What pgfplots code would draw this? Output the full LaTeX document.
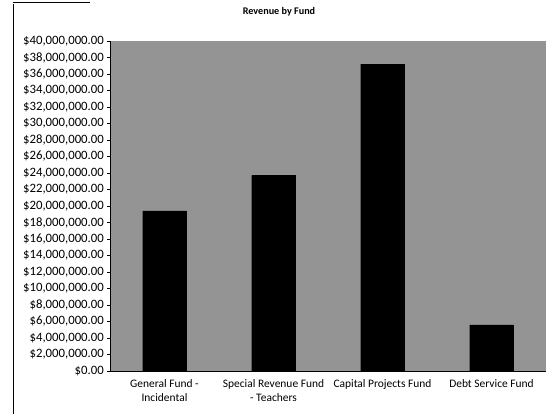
\documentclass[border=0pt]{standalone}
\usepackage{pgfplots}
\pgfplotsset{compat=1.18}
\usepackage{fontspec}
\setmainfont{Carlito}
\begin{document}
\begin{tikzpicture}
\useasboundingbox (-110bp,-43bp) rectangle (449bp,371bp);
\begin{axis}[
  at={(0,0)}, anchor=south west,
  scale only axis, width=436bp, height=330bp,
  xmin=-0.5, xmax=3.5, ymin=0, ymax=40000000,
  axis x line*=bottom, axis y line*=left,
  axis line style={black, line width=0.6pt},
  axis background/.style={fill=black!42},
  xtick={0,1,2,3},
  xticklabels={{General Fund -\\Incidental},{Special Revenue Fund\\- Teachers},{Capital Projects Fund},{Debt Service Fund}},
  xticklabel style={align=center, font=\fontsize{11.5}{14}\selectfont, inner sep=2pt, yshift=-3bp},
  x tick style={draw=none},
  extra x ticks={-0.5,0.5,1.5,2.5,3.5},
  extra x tick labels={},
  extra x tick style={tick style={draw=black, line width=0.5pt}, major tick length=3bp, tick align=outside},
  ytick={0,2000000,4000000,6000000,8000000,10000000,12000000,14000000,16000000,18000000,20000000,22000000,24000000,26000000,28000000,30000000,32000000,34000000,36000000,38000000,40000000},
  yticklabels={{\$0.00},{\$2,000,000.00},{\$4,000,000.00},{\$6,000,000.00},{\$8,000,000.00},{\$10,000,000.00},{\$12,000,000.00},{\$14,000,000.00},{\$16,000,000.00},{\$18,000,000.00},{\$20,000,000.00},{\$22,000,000.00},{\$24,000,000.00},{\$26,000,000.00},{\$28,000,000.00},{\$30,000,000.00},{\$32,000,000.00},{\$34,000,000.00},{\$36,000,000.00},{\$38,000,000.00},{\$40,000,000.00}},
  yticklabel style={font=\fontsize{12.8}{14}\selectfont, inner sep=1pt, xshift=-2bp},
  y tick style={black, line width=0.5pt},
  tick align=outside, major tick length=3bp,
  scaled y ticks=false,
  ybar, bar width=0.4,
  clip=false,
]
\addplot[fill=black, draw=black] coordinates {(0,19400000) (1,23700000) (2,37200000) (3,5600000)};
\end{axis}
\node[font=\bfseries\fontsize{10.2}{12}\selectfont] at (169bp,359bp) {Revenue by Fund};
\draw[black, line width=0.8pt] (-97bp,-43bp) -- (-97bp,367bp);
\draw[black, line width=0.6pt] (-97bp,369bp) -- (-20bp,369bp);
\end{tikzpicture}
\end{document}
